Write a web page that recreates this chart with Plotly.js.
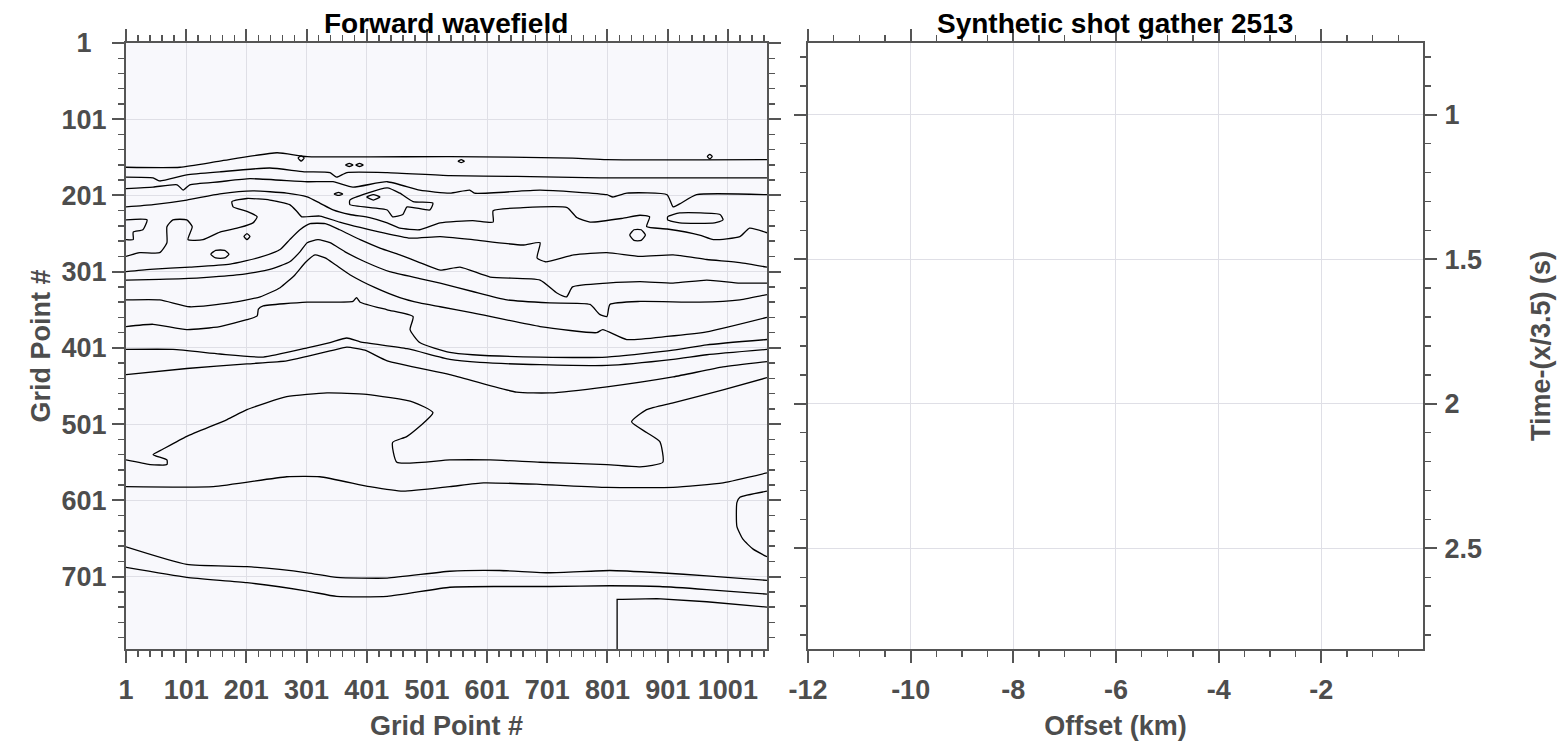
<!DOCTYPE html>
<html>
<head>
<meta charset="utf-8">
<script src="https://cdn.plot.ly/plotly-3.0.1.min.js"></script>
<style>html,body{margin:0;padding:0;background:#fff;}#chart{width:1557px;height:743px;}</style>
</head>
<body>
<div id="chart"></div>
<script>
// ---- Titles / labels ----
const leftTitle = "Forward wavefield";
const rightTitle = "Synthetic shot gather 2513";
const leftXLabel = "Grid Point #";
const leftYLabel = "Grid Point #";
const rightXLabel = "Offset (km)";
const rightYLabel = "Time-(x/3.5) (s)";

// ---- Tick values / labels ----
const gridTickVals = [1,101,201,301,401,501,601,701];
const gridYTickText = ["\u20071\u2007","101","201","301","401","501","601","701"];
const offsetTickVals = [-12,-10,-8,-6,-4,-2];
const offsetTickText = ["-12","-10","-8","-6","-4","-2"];

// ---- Contour lines of the forward wavefield (grid point coordinates) ----
const c01x = [1,91,157,252,302,539,743,800,1066];
const c01y = [164,164,156,145,150,150,152,154,154];
const c02x = [1,46,57,102,157,240,297,340,351,368,435,539,650,788,900,1066];
const c02y = [177,178,182,174,170,165,170,171,177,171,171,175,176,178,178,178];
const c03x = [1,46,86,96,107,157,207,302,345,378,435,489,539,572,580,689,800,810,833,900,910,921,949,1066];
const c03y = [192,190,187,194,187,183,179,183,183,190,183,194,198,194,198,194,200,203,198,200,216,212,200,200];
const c04x = [1,46,102,157,212,268,302,323,345,373,406,435,456,489,523,577,611,611,661,734,750,772,826,855,871,866,900,954,977,1021,1037,1066];
const c04y = [216,213,207,199,195,198,203,211,220,226,230,237,244,246,237,234,236,221,217,217,230,236,231,227,229,242,245,253,259,255,244,250];
const c05x = [1,24,57,69,69,79,102,111,104,129,157,190,212,219,202,179,177,202,240,273,285,293,323,356,390,423,473,523,577,660,689,684,698,745,800,855,910,966,1021,1066];
const c05y = [281,276,276,263,242,233,233,242,259,259,249,243,237,229,222,216,209,205,207,213,222,229,228,236,243,249,257,255,259,266,263,283,288,279,276,281,279,285,289,295];
const c06x = [1,41,107,174,224,257,273,290,307,332,356,390,423,456,489,523,556,606,689,717,733,743,800,855,910,966,1021,1066];
const c06y = [301,298,295,291,282,272,259,246,238,238,246,259,270,279,289,299,295,308,312,329,334,321,316,314,316,312,316,316];
const c07x = [1,57,124,190,240,273,290,302,320,340,365,398,439,489,523,577,634,705,772,788,800,805,855,954,1021,1066];
const c07y = [312,311,309,305,298,288,275,263,259,263,275,288,301,310,316,327,338,342,344,357,360,344,340,341,338,331];
const c08x = [1,57,107,174,224,257,282,299,315,332,349,373,415,456,489,523,577,689,783,793,833,900,966,1066];
const c08y = [338,338,347,342,334,322,305,289,279,283,292,305,322,335,342,347,355,373,381,377,390,386,380,361];
const c09x = [1,46,102,157,202,219,221,229,302,378,384,390,435,478,473,489,539,577,689,800,910,966,1066];
const c09y = [373,370,377,373,364,359,350,346,341,340,335,341,351,360,377,394,407,410,413,413,404,397,390];
const c10x = [1,102,202,268,302,340,368,398,435,539,650,705,800,910,993,1066];
const c10y = [436,428,422,418,412,405,400,404,418,436,459,460,452,439,426,419];
const c25x = [1,79,157,229,302,340,368,390,468,539,589,689,800,910,966,1066];
const c25y = [403,403,409,413,401,394,388,393,402,416,420,423,424,416,410,403];
const c11x = [1,41,69,69,46,62,102,169,202,268,335,401,478,511,468,444,451,539,606,689,800,855,893,888,866,841,866,910,993,1066];
const c11y = [548,554,554,548,541,534,517,495,482,465,460,462,472,486,517,525,551,548,548,551,554,557,551,524,512,498,482,473,456,440];
const c12x = [1,146,268,323,406,461,539,595,689,800,910,993,1066];
const c12y = [583,583,570,570,583,589,583,578,580,584,584,578,565];
const c13x = [1,102,202,302,351,435,539,622,705,805,888,966,1066];
const c13y = [662,685,688,696,702,703,694,693,696,693,696,700,706];
const c14x = [1,102,202,302,351,435,539,622,705,805,888,966,1066];
const c14y = [689,702,709,720,727,727,715,714,714,713,714,718,724];
const c15x = [817,817,826,883,966,1066];
const c15y = [796,731,731,730,734,741];
const c16x = [1066,1021,1016,1016,1026,1043,1066];
const c16y = [589,597,604,635,652,665,675];
// closed loops
const c17x = [373,435,456,478,511,506,468,461,444,435,373,373];
const c17y = [207,191,198,209,211,220,216,226,229,220,213,207];
const c18x = [401,412,423,412,401];
const c18y = [203,200,203,207,203];
const c19x = [347,354,361,354,347];
const c19y = [199,197,199,201,199];
const c20x = [901,921,988,993,979,921,901,901];
const c20y = [229,224,226,233,237,237,233,229];
const c21x = [838,845,857,864,857,845,838];
const c21y = [253,246,246,253,260,260,253];
const c22x = [1,36,29,13,13,1];
const c22y = [233,233,246,249,259,259];
const c23x = [142,150,165,172,165,150,142];
const c23y = [278,273,273,278,283,283,278];
const c24x = [197,202,207,202,197];
const c24y = [255,251,255,259,255];
// tiny specks near the top contour
const c26x = [287,292,297,292,287];
const c26y = [152,149,152,156,152];
const c27x = [366,372,378,372,366];
const c27y = [161,159,161,163,161];
const c28x = [383,389,395,389,383];
const c28y = [161,159,161,163,161];
const c29x = [553,558,563,558,553];
const c29y = [156,154,156,158,156];
const c30x = [967,971,975,971,967];
const c30y = [150,147,150,153,150];

// ---- Axis ranges ----
const gridXRange = [1, 1066];
const gridYRange = [796, 1];
const offsetRange = [-12, -0.02];
const timeRange = [2.848, 0.752];

const curvedLines = [
  [c01x,c01y],[c02x,c02y],[c03x,c03y],[c04x,c04y],[c05x,c05y],[c06x,c06y],
  [c07x,c07y],[c08x,c08y],[c09x,c09y],[c10x,c10y],[c25x,c25y],[c11x,c11y],[c12x,c12y],
  [c13x,c13y],[c14x,c14y],[c16x,c16y],[c17x,c17y],[c18x,c18y],
  [c19x,c19y],[c20x,c20y],[c21x,c21y],[c22x,c22y],[c23x,c23y],[c24x,c24y],
  [c26x,c26y],[c27x,c27y],[c28x,c28y],[c29x,c29y],[c30x,c30y]
];
const straightLines = [[c15x,c15y]];

const traces = curvedLines.map(function(p){
  return {type:'scatter', mode:'lines', x:p[0], y:p[1], xaxis:'x', yaxis:'y',
    line:{color:'#000', width:1.3, shape:'spline', smoothing:0.5}, showlegend:false, hoverinfo:'skip'};
}).concat(straightLines.map(function(p){
  return {type:'scatter', mode:'lines', x:p[0], y:p[1], xaxis:'x', yaxis:'y',
    line:{color:'#000', width:1.3, shape:'linear'}, showlegend:false, hoverinfo:'skip'};
}));
traces.push({type:'scatter', mode:'lines', x:[], y:[], xaxis:'x2', yaxis:'y2', showlegend:false, hoverinfo:'skip'});

const FONT = '"Liberation Sans", Arial, Helvetica, sans-serif';
const tickFont = {family:FONT, size:27, color:'#4d4d4d', weight:'bold'};
const labFont = {family:FONT, size:27, color:'#4d4d4d', weight:'bold'};
const axCol = '#555555';
const gridCol = '#dfdfe6';

function axisBase(){
  return {showline:true, linecolor:axCol, linewidth:2, mirror:'ticks',
    ticks:'outside', ticklen:12, tickwidth:2, tickcolor:axCol,
    showgrid:true, gridcolor:gridCol, gridwidth:1, zeroline:false,
    tickfont:tickFont, automargin:false, fixedrange:true};
}

const xa = Object.assign(axisBase(), {domain:[0,0.4942], range:gridXRange, tick0:1, dtick:100, anchor:'y',
  ticklabelstandoff:4,
  minor:{tick0:1, dtick:20, ticks:'outside', ticklen:6, tickwidth:1.5, tickcolor:axCol, showgrid:false},
  title:{text:leftXLabel, font:labFont, standoff:12}});
const ya = Object.assign(axisBase(), {domain:[0,1], range:gridYRange, tickmode:'array',
  tickvals:gridTickVals, ticktext:gridYTickText, anchor:'x',
  minor:{tick0:1, dtick:20, ticks:'outside', ticklen:6, tickwidth:1.5, tickcolor:axCol, showgrid:false},
  title:{text:leftYLabel, font:labFont, standoff:3}});
const xa2 = Object.assign(axisBase(), {domain:[0.5258,1], range:offsetRange, tickmode:'array',
  tickvals:offsetTickVals, ticktext:offsetTickText, anchor:'y2', ticklabelstandoff:4,
  minor:{tick0:0, dtick:0.5, ticks:'outside', ticklen:6, tickwidth:1.5, tickcolor:axCol, showgrid:false},
  title:{text:rightXLabel, font:labFont, standoff:12}});
const ya2 = Object.assign(axisBase(), {domain:[0,1], range:timeRange, tick0:0, dtick:0.5, anchor:'x2', side:'right',
  ticklabelstandoff:2,
  minor:{tick0:0, dtick:0.1, ticks:'outside', ticklen:6, tickwidth:1.5, tickcolor:axCol, showgrid:false},
  title:{text:rightYLabel, font:labFont, standoff:50}});

const layout = {
  width:1557, height:743,
  margin:{l:126, r:134, t:43, b:94, pad:0},
  paper_bgcolor:'#ffffff', plot_bgcolor:'#ffffff',
  showlegend:false,
  xaxis:xa, yaxis:ya, xaxis2:xa2, yaxis2:ya2,
  shapes:[{type:'rect', xref:'x domain', yref:'y domain', x0:0, x1:1, y0:0, y1:1,
    fillcolor:'#f8f8fc', line:{width:0}, layer:'below'}],
  annotations:[
    {text:leftTitle, xref:'x domain', yref:'paper', x:0.5, y:1, xanchor:'center', yanchor:'bottom', yshift:2, showarrow:false,
      font:{family:FONT, size:28, color:'#000', weight:'bold'}},
    {text:rightTitle, xref:'x2 domain', yref:'paper', x:0.5, y:1, xanchor:'center', yanchor:'bottom', yshift:2, showarrow:false,
      font:{family:FONT, size:28, color:'#000', weight:'bold'}}
  ]
};

Plotly.newPlot('chart', traces, layout, {displayModeBar:false, staticPlot:true});
</script>
</body>
</html>
